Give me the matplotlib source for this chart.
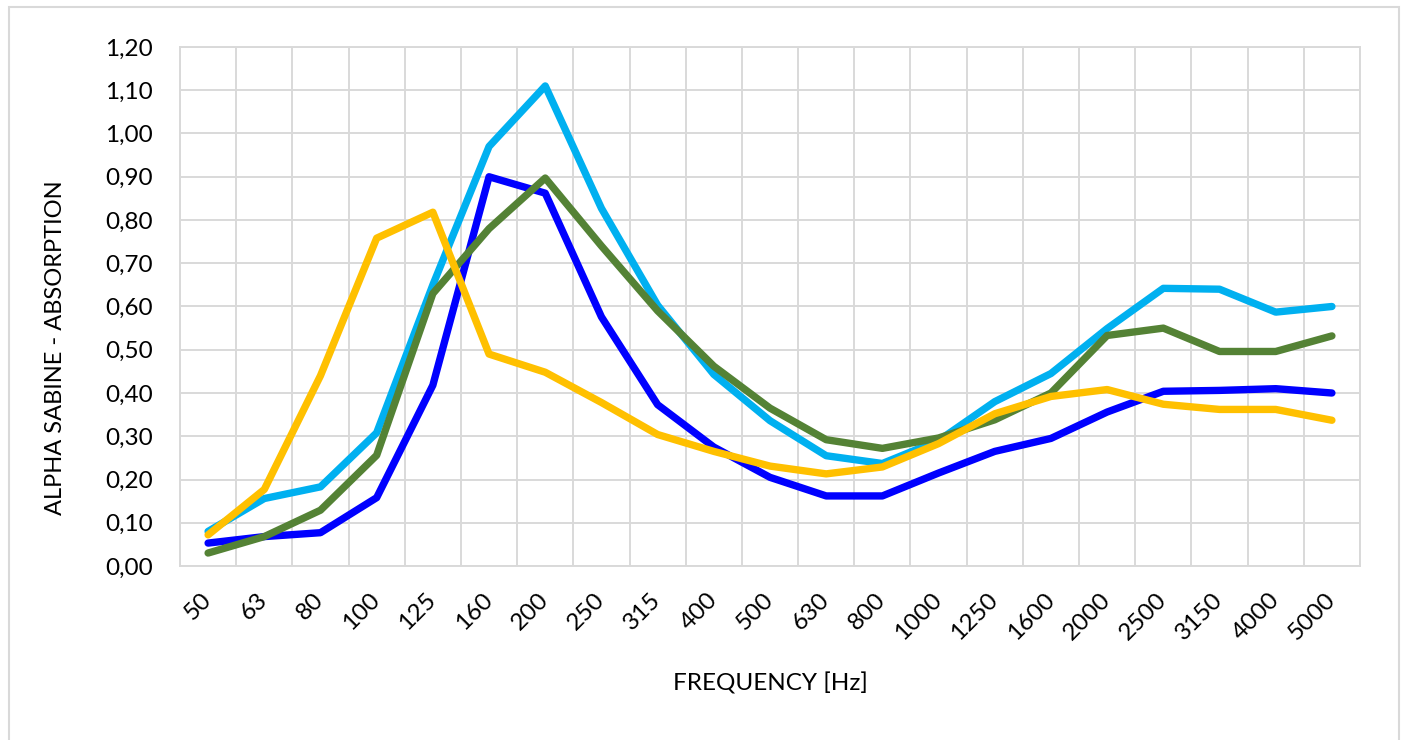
import numpy as np
import matplotlib
matplotlib.use("Agg")
import matplotlib.pyplot as plt
from matplotlib.ticker import FuncFormatter, FixedLocator
from matplotlib.patches import Rectangle

plt.rcParams['font.family'] = ['Lato', 'DejaVu Sans']

frequencies = ["50", "63", "80", "100", "125", "160", "200", "250", "315", "400",
               "500", "630", "800", "1000", "1250", "1600", "2000", "2500", "3150",
               "4000", "5000"]

alpha_blue = [0.053, 0.068, 0.077, 0.158, 0.418, 0.900, 0.862, 0.576, 0.373, 0.275,
              0.205, 0.162, 0.162, 0.215, 0.265, 0.295, 0.356, 0.404, 0.406, 0.410, 0.400]
alpha_light_blue = [0.080, 0.156, 0.183, 0.308, 0.650, 0.970, 1.110, 0.827, 0.603, 0.443,
                    0.336, 0.255, 0.237, 0.290, 0.380, 0.445, 0.549, 0.642, 0.640, 0.587, 0.600]
alpha_green = [0.030, 0.068, 0.129, 0.256, 0.630, 0.780, 0.897, 0.740, 0.590, 0.462,
               0.365, 0.292, 0.272, 0.296, 0.338, 0.400, 0.533, 0.550, 0.496, 0.496, 0.532]
alpha_yellow = [0.072, 0.177, 0.440, 0.758, 0.818, 0.490, 0.448, 0.378, 0.304, 0.265,
                0.231, 0.213, 0.229, 0.283, 0.352, 0.392, 0.408, 0.374, 0.362, 0.362, 0.337]

series = [
    (alpha_blue, "#0000FF"),
    (alpha_light_blue, "#00B0F0"),
    (alpha_green, "#548235"),
    (alpha_yellow, "#FFC000"),
]

grid_color = "#D9D9D9"

fig = plt.figure(figsize=(14.05, 7.40), dpi=100)
fig.patch.set_facecolor("white")

# outer chart border
fig.patches.append(Rectangle((9 / 1405, -0.05), 1390 / 1405, 1.05 - 7 / 740,
                             transform=fig.transFigure, fill=False,
                             edgecolor=grid_color, linewidth=1.5))

ax = fig.add_axes([180 / 1405, 1 - 566 / 740, 1180 / 1405, (566 - 47) / 740])

x = np.arange(len(frequencies))
for values, color in series:
    ax.plot(x, values, color=color, linewidth=5.3,
            solid_capstyle="round", solid_joinstyle="round", zorder=3)

ax.set_xlim(-0.5, len(frequencies) - 0.5)
ax.set_ylim(0, 1.2)
ax.set_yticks(np.arange(0, 1.21, 0.1))
ax.yaxis.set_major_formatter(FuncFormatter(lambda v, p: f"{v:.2f}".replace(".", ",")))

ax.set_xticks(x)
ax.set_xticklabels(frequencies, rotation=45, ha="right", va="center",
                   rotation_mode="anchor")
ax.xaxis.set_minor_locator(FixedLocator(np.arange(-0.5, len(frequencies), 1.0)))

ax.grid(True, which="major", axis="y", color=grid_color, linewidth=1.4, zorder=0)
ax.grid(True, which="minor", axis="x", color=grid_color, linewidth=1.4, zorder=0)
ax.grid(False, which="major", axis="x")

for side in ["top", "right", "left", "bottom"]:
    ax.spines[side].set_color(grid_color)
    ax.spines[side].set_linewidth(1.4)

ax.tick_params(axis="both", which="both", length=0, labelsize=17.5, colors="black")
ax.tick_params(axis="y", pad=19.5)
ax.tick_params(axis="x", pad=22)

ax.set_ylabel("ALPHA SABINE - ABSORPTION", fontsize=17)
ax.set_xlabel("FREQUENCY [Hz]", fontsize=17.5)
ax.xaxis.set_label_coords((770 - 180) / 1180, -(672 - 566) / 519)
ax.yaxis.set_label_coords(-(180 - 66) / 1180, (566 - 348) / 519)

fig.savefig("out.png", dpi=100, facecolor="white")
